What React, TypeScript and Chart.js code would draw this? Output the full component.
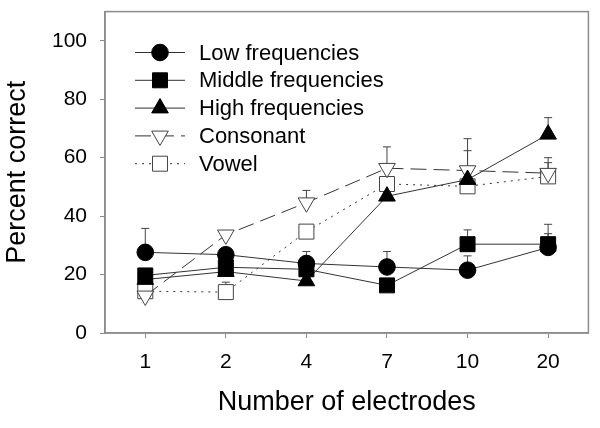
import React, { useEffect, useRef } from 'react';
import { Chart, registerables } from 'chart.js';
import { drawPoint } from 'chart.js/helpers';

Chart.register(...registerables);

const categories = ['1', '2', '4', '7', '10', '20'];
const yTicks = [0, 20, 40, 60, 80, 100];

const lowFreq = [27.6, 26.8, 23.8, 22.6, 21.5, 29.3];
const lowFreqErr = [8.2, null, 4.1, 5.3, 4.9, 4.7];
const midFreq = [19.7, 22.5, 21.8, 16.3, 30.4, 30.4];
const midFreqErr = [null, null, null, null, 4.9, 6.8];
const highFreq = [18.3, 21.0, 17.8, 46.8, 52.5, 68.0];
const highFreqErr = [null, null, null, null, 9.9, 5.7];
const consonant = [12.7, 33.6, 44.6, 56.4, 55.6, 54.7];
const consonantErr = [null, null, 4.2, 7.3, 10.9, 5.3];
const vowel = [14.3, 14.0, 34.7, 51.0, 50.2, 53.6];
const vowelErr = [null, 3.4, null, null, null, 4.7];

const seriesNames = ['Low frequencies', 'Middle frequencies', 'High frequencies', 'Consonant', 'Vowel'];

const FONT = "'Liberation Sans', Arial, sans-serif";
const AXIS_GRAY = '#8c8c8c';
const LINE = '#333333';

const errorBarsPlugin = {
  id: 'errorBars',
  beforeDatasetsDraw(chart: any) {
    const ctx = chart.ctx;
    const yScale = chart.scales.y;
    ctx.save();
    ctx.strokeStyle = '#444';
    ctx.lineWidth = 1;
    chart.data.datasets.forEach((ds: any, i: number) => {
      const meta = chart.getDatasetMeta(i);
      const errs = ds.errors || [];
      meta.data.forEach((pt: any, j: number) => {
        const e = errs[j];
        if (e == null) return;
        const yTop = yScale.getPixelForValue(ds.data[j] + e);
        ctx.beginPath();
        ctx.moveTo(pt.x, pt.y);
        ctx.lineTo(pt.x, yTop);
        ctx.moveTo(pt.x - 4, yTop);
        ctx.lineTo(pt.x + 4, yTop);
        ctx.stroke();
      });
    });
    ctx.restore();
  },
};

const framePlugin = {
  id: 'frame',
  afterDraw(chart: any) {
    const { ctx, chartArea } = chart;
    ctx.save();
    ctx.strokeStyle = AXIS_GRAY;
    ctx.lineWidth = 1.5;
    ctx.strokeRect(chartArea.left, chartArea.top, chartArea.right - chartArea.left, chartArea.bottom - chartArea.top);
    ctx.restore();
  },
};

const legendPlugin = {
  id: 'insideLegend',
  afterDraw(chart: any) {
    const ctx = chart.ctx;
    ctx.save();
    const x0 = 135, x1 = 185, xm = 160, xt = 199;
    const yStart = 52.5, step = 27.8;
    chart.data.datasets.forEach((ds: any, i: number) => {
      const y = yStart + i * step;
      ctx.strokeStyle = ds.borderColor;
      ctx.lineWidth = ds.borderWidth;
      ctx.setLineDash(ds.borderDash || []);
      ctx.beginPath();
      ctx.moveTo(x0, y);
      ctx.lineTo(x1, y);
      ctx.stroke();
      ctx.setLineDash([]);
      ctx.fillStyle = ds.pointBackgroundColor;
      ctx.strokeStyle = ds.pointBorderColor;
      ctx.lineWidth = ds.pointBorderWidth;
      drawPoint(ctx, {
        pointStyle: ds.pointStyle,
        rotation: ds.pointRotation || 0,
        radius: ds.pointRadius,
        borderWidth: ds.pointBorderWidth,
      } as any, xm, y);
      ctx.fillStyle = '#000';
      ctx.font = `22px ${FONT}`;
      ctx.textBaseline = 'middle';
      ctx.textAlign = 'left';
      ctx.fillText(ds.label, xt, y + 1);
    });
    ctx.restore();
  },
};

export default function App() {
  const canvasRef = useRef<HTMLCanvasElement | null>(null);

  useEffect(() => {
    if (!canvasRef.current) return;
    const mk = (label: string, data: number[], errors: (number | null)[], style: string, filled: boolean, radius: number, extra: any = {}) => ({
      label,
      data,
      errors,
      borderColor: LINE,
      borderWidth: 1,
      pointStyle: style,
      pointRadius: radius,
      pointHoverRadius: radius,
      pointBackgroundColor: filled ? '#000' : '#fff',
      pointBorderColor: filled ? '#000' : '#444',
      pointBorderWidth: 1,
      fill: false,
      tension: 0,
      ...extra,
    });
    const chart = new Chart(canvasRef.current, {
      type: 'line',
      data: {
        labels: categories,
        datasets: [
          mk(seriesNames[0], lowFreq, lowFreqErr, 'circle', true, 8.3),
          mk(seriesNames[1], midFreq, midFreqErr, 'rect', true, 10.6),
          mk(seriesNames[2], highFreq, highFreqErr, 'triangle', true, 9.6),
          mk(seriesNames[3], consonant, consonantErr, 'triangle', false, 9.6, { pointRotation: 180, borderDash: [16, 7] }),
          mk(seriesNames[4], vowel, vowelErr, 'rect', false, 10.6, { borderDash: [2, 5] }),
        ] as any,
      },
      options: {
        responsive: false,
        animation: false,
        devicePixelRatio: 1,
        layout: { padding: { top: 9, right: 10, left: 0, bottom: 0 } },
        plugins: { legend: { display: false }, tooltip: { enabled: false } },
        scales: {
          x: {
            type: 'category',
            offset: true,
            grid: { display: true, drawOnChartArea: false, drawTicks: true, tickLength: 5, color: AXIS_GRAY, offset: false },
            border: { display: true, color: AXIS_GRAY, width: 1.5 },
            ticks: { color: '#000', font: { family: FONT, size: 21 }, padding: 12, maxRotation: 0 },
            title: { display: true, text: 'Number of electrodes', color: '#000', font: { family: FONT, size: 27 }, padding: { top: 0, bottom: 9 } },
            afterFit: (s: any) => { s.height = 95; s.paddingLeft = 0; s.paddingRight = 0; },
          },
          y: {
            type: 'linear',
            min: 0,
            max: 110,
            bounds: 'data',
            grace: 0,
            grid: { display: true, drawOnChartArea: false, drawTicks: true, tickLength: 5, color: AXIS_GRAY },
            border: { display: true, color: AXIS_GRAY, width: 1.5 },
            ticks: { color: '#000', font: { family: FONT, size: 21 }, padding: 13, stepSize: 20 },
            afterDataLimits: (s: any) => { s.min = 0; s.max = 110; },
            afterBuildTicks: (s: any) => { s.ticks = yTicks.map((v) => ({ value: v })); },
            title: { display: true, text: 'Percent correct', color: '#000', font: { family: FONT, size: 27 }, padding: { top: 1, bottom: 0 } },
            afterFit: (s: any) => { s.width = 105; s.paddingTop = 0; s.paddingBottom = 0; },
          },
        },
      } as any,
      plugins: [errorBarsPlugin, framePlugin, legendPlugin],
    });
    return () => chart.destroy();
  }, []);

  return (
    <div style={{ position: 'absolute', left: 0, top: 0, width: 600, height: 428, background: '#fff' }}>
      <canvas ref={canvasRef} width={600} height={428} style={{ display: 'block' }} />
    </div>
  );
}
